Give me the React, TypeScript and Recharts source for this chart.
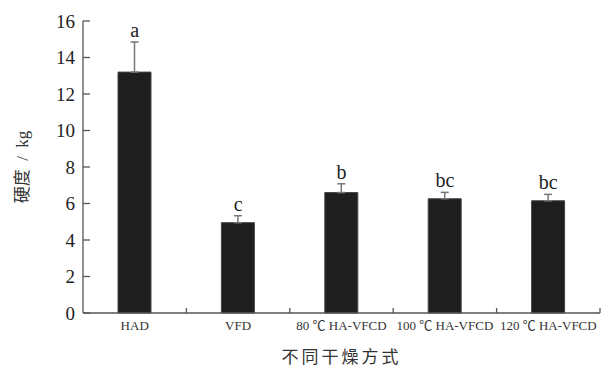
import {
  ComposedChart,
  Bar,
  Line,
  XAxis,
  YAxis,
  ErrorBar,
  LabelList,
  Label,
} from 'recharts';

// drying methods and measured hardness (kg)
const methods = ['HAD', 'VFD', '80 ℃\u00a0HA-VFCD', '100 ℃\u00a0HA-VFCD', '120 ℃\u00a0HA-VFCD'];
const hardness = [13.2, 4.95, 6.6, 6.26, 6.15];
const errors = [1.65, 0.38, 0.48, 0.35, 0.35];
const letters = ['a', 'c', 'b', 'bc', 'bc'];
const yTicks = [0, 2, 4, 6, 8, 10, 12, 14, 16];

const chartData = methods.map((m, i) => ({
  method: m,
  hardness: hardness[i],
  err: [0, errors[i]],
  top: hardness[i] + errors[i],
  letter: letters[i],
}));

const SERIF = "'Liberation Serif', 'Times New Roman', 'Noto Sans CJK SC', serif";
const AXIS = '#555';

// category label centred under the bar, tick mark at the band boundary
function MethodTick(props: any) {
  const { x, y, payload } = props;
  const half = payload && payload.offset ? payload.offset : 51.7;
  return (
    <g>
      <line x1={x + half} x2={x + half} y1={y} y2={y - 5} stroke={AXIS} strokeWidth={1.3} />
      <text x={x} y={y + 17} textAnchor="middle" fontSize={13} fontFamily={SERIF} fill="#333">
        {payload.value}
      </text>
    </g>
  );
}

export default function App() {
  return (
    <div style={{ position: 'absolute', left: 0, top: 0, background: '#fff' }}>
      <ComposedChart
        width={610}
        height={371}
        data={chartData}
        margin={{ top: 21, right: 10, left: 0, bottom: 0 }}
      >
        <XAxis
          dataKey="method"
          height={58}
          interval={0}
          tickLine={false}
          tickSize={0}
          tickMargin={0}
          tick={<MethodTick />}
          axisLine={{ stroke: AXIS, strokeWidth: 1.3 }}
        >
          <Label
            content={({ viewBox }: any) => (
              <text
                x={viewBox.x + viewBox.width / 2}
                y={viewBox.y + 50}
                textAnchor="middle"
                fontSize={17}
                letterSpacing={3}
                fontFamily="'Noto Sans CJK SC', sans-serif"
                fill="#333"
              >
                不同干燥方式
              </text>
            )}
          />
        </XAxis>
        <YAxis
          width={83}
          domain={[0, 16]}
          ticks={yTicks}
          interval={0}
          tickSize={-7}
          tickMargin={15}
          tickLine={{ stroke: AXIS, strokeWidth: 1.3 }}
          axisLine={{ stroke: AXIS, strokeWidth: 1.3 }}
          tick={{ fontSize: 19, fontFamily: SERIF, fill: '#222' }}
        >
          <Label
            content={({ viewBox }: any) => {
              const cx = viewBox.x + 22;
              const cy = viewBox.y + viewBox.height / 2;
              return (
                <text
                  x={cx}
                  y={cy}
                  transform={`rotate(-90 ${cx} ${cy})`}
                  textAnchor="middle"
                  dominantBaseline="central"
                  fontSize={17}
                  fontFamily={SERIF}
                  fill="#333"
                >
                  {'硬度\u00a0\u00a0/\u00a0\u00a0kg'}
                </text>
              );
            }}
          />
        </YAxis>
        <Bar
          dataKey="hardness"
          barSize={33}
          fill="#1e1e1e"
          stroke="#444"
          strokeWidth={1}
          isAnimationActive={false}
        >
          <ErrorBar dataKey="err" width={4} stroke="#777" strokeWidth={1.5} direction="y" />
        </Bar>
        <Line
          dataKey="top"
          stroke="none"
          dot={false}
          activeDot={false}
          isAnimationActive={false}
        >
          <LabelList
            dataKey="letter"
            position="top"
            offset={5}
            fontSize={20}
            fontFamily={SERIF}
            fill="#222"
          />
        </Line>
      </ComposedChart>
    </div>
  );
}
